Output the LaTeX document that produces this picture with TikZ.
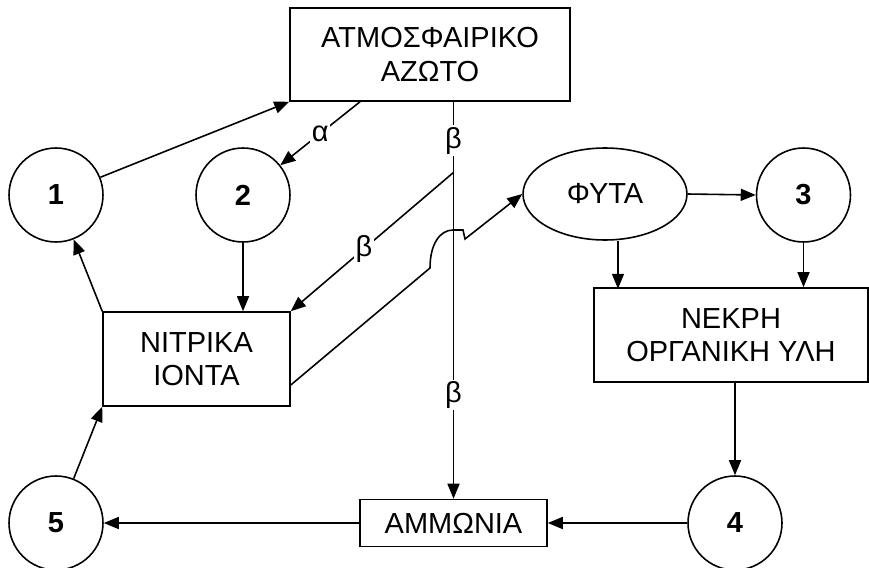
\documentclass[tikz,border=0pt]{standalone}
\usepackage{fontspec}
\setmainfont{Liberation Sans}
\usetikzlibrary{arrows.meta, shapes.geometric}

\begin{document}
\begin{tikzpicture}[x=0.02cm, y=-0.02cm, >={Triangle[length=3mm, width=2.4mm]}, line width=0.9pt,
      box/.style={draw, align=center, inner sep=0pt, font=\fontsize{16.5}{19}\selectfont},
      pool/.style={draw, circle, minimum size=1.88cm, inner sep=0pt, font=\fontsize{16.5}{19}\selectfont\bfseries},
      lbl/.style={fill=white, inner sep=1pt, font=\fontsize{16.5}{19}\selectfont}]

    \useasboundingbox (0,0) rectangle (869,568);

    % === Nodes ===
    \node[box, minimum width=5.6cm, minimum height=1.86cm] (atm) at (430,54.5) {ΑΤΜΟΣΦΑΙΡΙΚΟ\\ΑΖΩΤΟ};
    \node[pool] (c1) at (56,195) {1};
    \node[pool] (c2) at (243,195) {2};
    \node[draw, ellipse, minimum width=3.28cm, minimum height=1.84cm, inner sep=0pt,
          font=\fontsize{16.5}{19}\selectfont] (phy) at (605,194) {ΦΥΤΑ};
    \node[pool] (c3) at (803.5,195) {3};
    \node[box, minimum width=3.74cm, minimum height=1.88cm] (nitr) at (196.5,359) {ΝΙΤΡΙΚΑ\\ΙΟΝΤΑ};
    \node[box, minimum width=5.48cm, minimum height=1.88cm] (nekr) at (731,335) {ΝΕΚΡΗ\\ΟΡΓΑΝΙΚΗ ΥΛΗ};
    \node[pool] (c4) at (735,523) {4};
    \node[pool] (c5) at (56,523) {5};
    \node[box, minimum width=3.74cm, minimum height=0.94cm] (amm) at (453.5,523) {ΑΜΜΩΝΙΑ};

    % === Upper part ===
    \draw[->] (c1) -- (atm.south west);
    \draw[->] ([xshift=-1.4cm]atm.south) -- node[lbl] {α} (c2);
    \draw[->] (atm.south -| amm.north) -- node[lbl, pos=0.098] {β} coordinate[pos=0.178] (br)
        node[lbl, pos=0.739] {β} (amm.north);
    \draw[->] (br) -- node[lbl, pos=0.55] {β} (nitr.north east);
    \draw[->] (c2.south) -- (c2.south |- nitr.north);
    \draw[->] (nitr.north west) -- (c1);

    % === Plants ===
    \draw[->] ([yshift=-0.52cm]nitr.east) -- (430,268) .. controls (430,244) and (440,230) .. (453,230)
        -- (463,230) -- (465,239) -- (phy.west);
    \draw[->] (phy.east) -- (c3.west);
    \draw[->] ([xshift=0.26cm]phy.south) -- ++(0,48);
    \draw[->] (c3.south) -- (c3.south |- nekr.north);

    % === Lower part ===
    \draw[->] (nekr.south -| c4.north) -- (c4.north);
    \draw[->] (c4.west) -- (amm.east);
    \draw[->] (amm.west) -- (c5.east);
    \draw[->] (c5) -- (nitr.south west);

\end{tikzpicture}
\end{document}
